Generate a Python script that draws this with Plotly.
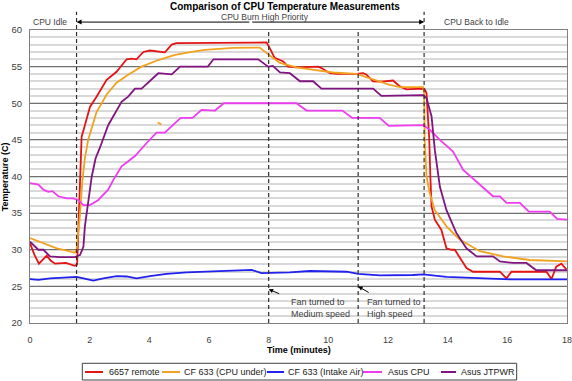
import plotly.graph_objects as go

# ---------------- data ----------------
red_x = [0, 0.15, 0.3, 0.45, 0.56, 0.7, 0.84, 1.2, 1.5, 1.58, 1.67, 1.73, 1.84, 2.01, 2.23, 2.57, 2.9, 3.13,
         3.24, 3.41, 3.57, 3.8, 4.02, 4.52, 4.75, 4.91, 7.82, 7.93, 8.04, 8.2, 8.38, 8.49, 8.65, 8.93, 9.66,
         9.77, 10.05, 10.27, 10.94, 11.17, 11.28, 11.5, 11.78, 12.17, 12.4, 12.62, 13.07, 13.23, 13.29, 13.38,
         13.42, 13.46, 13.57, 13.79, 13.96, 14.13, 14.24, 14.4, 14.63, 14.85, 15.75, 15.97, 16.14, 17.31,
         17.48, 17.64, 17.81, 17.98]
red_y = [30.9, 29.3, 28.1, 28.8, 29.2, 28.5, 28.1, 28.2, 27.8, 28.0, 38.0, 45.4, 47.0, 49.5, 50.9, 53.2, 54.3, 55.5,
         56.0, 56.1, 56.0, 57.0, 57.2, 56.95, 58.0, 58.2, 58.2, 58.3, 57.5, 56.2, 55.9, 55.7, 55.0, 54.9, 55.0,
         54.8, 54.1, 54.0, 54.0, 54.1, 53.9, 53.0, 52.95, 53.1, 52.3, 51.9, 52.0, 51.9, 51.4, 45.4,
         40.0, 35.9, 34.1, 32.7, 30.2, 30.0, 30.0, 28.9, 27.5, 27.0, 27.0, 26.1, 27.0, 27.0,
         26.0, 27.7, 28.1, 27.3]

orange_x = [0, 0.3, 0.6, 0.9, 1.2, 1.5, 1.56, 1.67, 1.75, 1.84, 1.95, 2.07, 2.23, 2.57, 2.9, 3.29, 3.74, 4.3,
            4.86, 5.42, 5.86, 6.81, 7.7, 8.04, 8.38, 8.93, 9.6, 10.16, 10.94, 11.5, 12.06, 12.4, 13.18, 13.21,
            13.23, 13.29, 13.4, 13.57, 13.96, 14.4, 15.08, 15.86, 16.75, 18.0, None, 4.28, 4.41]
orange_y = [31.6, 31.1, 30.6, 30.2, 29.9, 29.6, 30.0, 34.5, 39.1, 42.5, 45.0, 46.5, 48.8, 51.2, 52.8, 53.9, 55.0, 55.9,
            56.6, 57.0, 57.3, 57.55, 57.6, 56.5, 55.5, 54.9, 54.5, 54.2, 54.0, 53.2, 52.5, 52.2, 52.2, 51.4,
            45.0, 40.0, 37.7, 35.4, 33.2, 31.4, 29.8, 29.1, 28.6, 28.4, None, 47.35, 47.1]

blue_x = [0, 0.28, 0.67, 1.56, 1.79, 2.12, 2.46, 2.9, 3.24, 3.57, 4.02, 4.58, 5.25, 5.92, 6.81, 7.43, 7.76, 8.04,
          8.71, 9.38, 10.61, 11.0, 11.73, 12.84, 13.18, 13.96, 15.08, 16.19, 18.0]
blue_y = [26.0, 25.9, 26.1, 26.3, 26.1, 25.8, 26.1, 26.4, 26.35, 26.1, 26.4, 26.7, 26.9, 27.0, 27.1, 27.25, 26.8, 26.8,
          26.9, 27.1, 27.0, 26.7, 26.5, 26.55, 26.65, 26.3, 26.1, 25.95, 25.95]

magenta_x = [0, 0.28, 0.45, 0.61, 0.75, 0.95, 1.23, 1.45, 1.62, 1.79, 2.01, 2.29, 2.62, 2.79, 3.07, 3.52, 3.85, 4.24,
             4.52, 4.8, 5.05, 5.45, 5.75, 6.2, 6.5, 8.93, 9.27, 10.47, 10.8, 11.72, 12.03, 13.18, 13.4, 13.74,
             14.18, 14.52, 15.08, 15.52, 15.75, 15.97, 16.42, 16.72, 17.42, 17.67, 18.0]
magenta_y = [39.1, 38.9, 38.2, 37.9, 38.0, 37.3, 37.0, 37.0, 36.8, 36.1, 36.1, 36.8, 38.2, 39.5, 41.4, 42.8, 44.3, 46.0,
             46.0, 47.0, 48.0, 48.0, 49.1, 49.0, 50.0, 50.0, 49.0, 49.0, 48.0, 48.0, 46.9, 47.0, 46.4, 45.0,
             43.4, 40.9, 38.9, 37.3, 37.3, 36.4, 36.4, 35.2, 35.2, 34.2, 34.1]

purple_x = [0, 0.28, 0.45, 0.6, 0.67, 1.0, 1.51, 1.68, 1.79, 1.84, 1.95, 2.07, 2.2, 2.35, 2.62, 3.07, 3.29, 3.52,
            3.74, 4.08, 4.3, 4.75, 5.03, 5.96, 6.15, 7.65, 7.82, 7.98, 8.14, 8.38, 8.71, 9.05, 9.49, 9.77, 11.5,
            11.78, 13.18, 13.29, 13.46, 13.57, 13.74, 13.96, 14.29, 14.63, 14.97, 15.52, 15.75, 16.19, 16.64,
            16.97, 18.0]
purple_y = [31.1, 30.0, 30.0, 29.3, 29.1, 29.0, 29.0, 29.3, 30.4, 33.2, 36.8, 40.0, 42.5, 44.0, 47.0, 50.2, 50.9, 52.0,
            52.0, 53.2, 54.1, 53.95, 55.0, 55.0, 56.0, 56.0, 55.5, 55.0, 55.1, 54.2, 54.1, 53.0, 53.0, 52.0, 52.0,
            51.0, 51.1, 50.7, 48.2, 43.6, 38.6, 35.4, 32.3, 30.2, 29.1, 29.1, 28.4, 28.2, 28.2,
            27.2, 27.2]

series_names = ["6657 remote", "CF 633 (CPU under)", "CF 633 (Intake Air)", "Asus CPU", "Asus JTPWR"]
series_colors = ["#e41414", "#f2a21e", "#2222ee", "#f03cf0", "#801480"]

phase_lines = [1.56, 8.0, 11.0, 13.21]
x_ticks = [0, 2, 4, 6, 8, 10, 12, 14, 16, 18]
y_ticks = [20, 25, 30, 35, 40, 45, 50, 55, 60]

FONT = "Arial, Liberation Sans, sans-serif"

# ---------------- figure ----------------
fig = go.Figure()
for (xs, ys), name, col in zip(
        [(red_x, red_y), (orange_x, orange_y), (blue_x, blue_y), (magenta_x, magenta_y), (purple_x, purple_y)],
        series_names, series_colors):
    fig.add_trace(go.Scatter(x=xs, y=ys, mode="lines", name=name, showlegend=False,
                             line=dict(color=col, width=1.8)))

# dashed phase separators
tall = {1.56: 1.062, 13.21: 1.062}
for xv in phase_lines:
    fig.add_shape(type="line", xref="x", yref="paper", x0=xv, x1=xv, y0=0, y1=tall.get(xv, 1.0),
                  line=dict(color="#303030", width=1.2, dash="4px,3px"), layer="above")

ann_font = dict(family=FONT, size=8.5, color="#404040")
arrow_y = 1.027
mid_x = 7.4
annotations = [
    # burn-phase double arrow (two halves, each with its own head)
    dict(x=phase_lines[0], y=arrow_y, xref="x", yref="paper", ax=mid_x, ay=0, axref="x", ayref="pixel",
         text="", showarrow=True, arrowhead=2, arrowsize=1, arrowwidth=1, arrowcolor="#000000", standoff=0),
    dict(x=phase_lines[3], y=arrow_y, xref="x", yref="paper", ax=mid_x, ay=0, axref="x", ayref="pixel",
         text="", showarrow=True, arrowhead=2, arrowsize=1, arrowwidth=1, arrowcolor="#000000", standoff=0),
    dict(x=0.67, y=1.027, xref="x", yref="paper", text="CPU Idle", showarrow=False, font=ann_font,
         xanchor="center", yanchor="middle"),
    dict(x=7.89, y=1.045, xref="x", yref="paper", text="CPU Burn High Priority", showarrow=False, font=ann_font,
         xanchor="center", yanchor="middle"),
    dict(x=14.96, y=1.027, xref="x", yref="paper", text="CPU Back to Idle", showarrow=False, font=ann_font,
         xanchor="center", yanchor="middle"),
    dict(x=8.0, y=24.6, xref="x", yref="y", ax=12, ay=5, text="", showarrow=True, arrowhead=2,
         arrowsize=0.9, arrowwidth=1, arrowcolor="#000000"),
    dict(x=8.68, y=23.85, xref="x", yref="y", text="Fan turned to<br>Medium speed", showarrow=False,
         xanchor="left", yanchor="top", align="left", font=dict(ann_font, size=9)),
    dict(x=11.0, y=25.0, xref="x", yref="y", ax=12, ay=7, text="", showarrow=True, arrowhead=2,
         arrowsize=0.9, arrowwidth=1, arrowcolor="#000000"),
    dict(x=11.22, y=23.85, xref="x", yref="y", text="Fan turned to<br>High speed", showarrow=False,
         xanchor="left", yanchor="top", align="left", font=dict(ann_font, size=9)),
    dict(x=-0.047, y=0.5, xref="paper", yref="paper", text="<b>Temperature (C)</b>", textangle=-90,
         xanchor="center", yanchor="middle",
         showarrow=False, font=dict(family=FONT, size=9, color="#000000")),
    dict(x=0.501, y=-0.092, xref="paper", yref="paper", text="<b>Time (minutes)</b>",
         xanchor="center", yanchor="middle",
         showarrow=False, font=dict(family=FONT, size=9, color="#000000")),
]

# legend drawn as a boxed row below the plot
legend_box = dict(x0=0.0974, x1=0.9063, y0=-0.1945, y1=-0.1375)
legend_line_x = [(0.1024, 0.1359), (0.2458, 0.2793), (0.4413, 0.4730), (0.6201, 0.6555), (0.7654, 0.7933)]
legend_text_x = [0.1439, 0.2825, 0.4762, 0.6629, 0.7994]
legend_y = -0.1672
fig.add_shape(type="rect", xref="paper", yref="paper", **legend_box,
              line=dict(color="#404040", width=1), fillcolor="white")
for (lx0, lx1), tx, name, col in zip(legend_line_x, legend_text_x, series_names, series_colors):
    fig.add_shape(type="line", xref="paper", yref="paper", x0=lx0, x1=lx1, y0=legend_y, y1=legend_y,
                  line=dict(color=col, width=2))
    annotations.append(dict(x=tx, y=legend_y, xref="paper", yref="paper", text=name, showarrow=False,
                            xanchor="left", yanchor="middle",
                            font=dict(family=FONT, size=9, color="#202020")))

fig.update_layout(
    width=572, height=381,
    margin=dict(l=30, r=5, t=30, b=58, autoexpand=False),
    paper_bgcolor="white", plot_bgcolor="white",
    font=dict(family=FONT, size=10, color="#404040"),
    title=dict(text="<b>Comparison of CPU Temperature Measurements</b>", x=0.498, xanchor="center",
               y=0.983, yanchor="middle", font=dict(size=10, color="#000000")),
    showlegend=False,
    annotations=annotations,
    xaxis=dict(range=[0, 18], tickvals=x_ticks, showgrid=False, zeroline=False, automargin=False,
               showline=True, linecolor="#808080", linewidth=1, mirror=True, ticklabeloverflow="allow",
               ticks="", ticklabelstandoff=8, tickfont=dict(size=9, color="#404040")),
    yaxis=dict(range=[20, 60], tickvals=y_ticks, showgrid=True, gridcolor="#707070", gridwidth=1,
               zeroline=False, showline=True, linecolor="#808080", linewidth=1, mirror=True, automargin=False,
               ticks="", ticklabelstandoff=5, tickfont=dict(size=9.5, color="#404040"),
               minor=dict(dtick=1, showgrid=True, gridcolor="#d9d9d9", gridwidth=2)),
)

# remove the page's default body margin so the 572x381 figure fills the window exactly
fig.write_html("out.html", config={"displayModeBar": False},
               post_script="document.body.style.margin='0px';")
